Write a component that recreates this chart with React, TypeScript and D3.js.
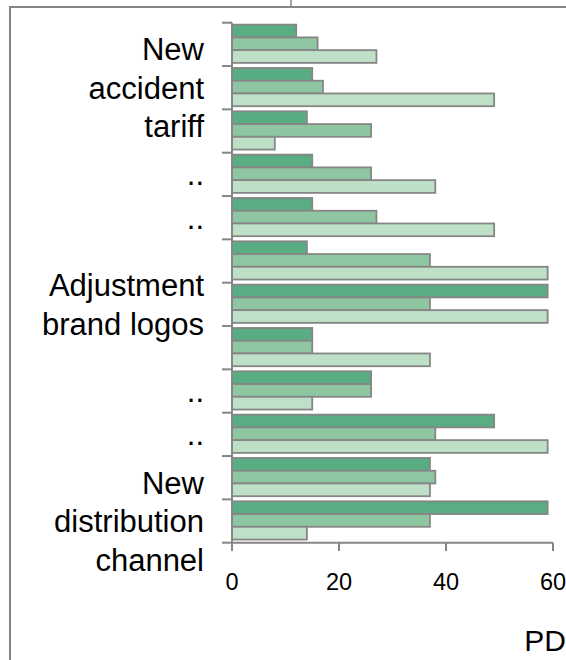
import React, { useEffect, useRef } from "react";
import * as d3 from "d3";

// Category labels (blank entries carry no axis text)
const categories = [
  "",
  "New accident tariff",
  "",
  "..",
  "..",
  "",
  "Adjustment brand logos",
  "",
  "..",
  "..",
  "",
  "New distribution channel",
];

const seriesNames = ["S1", "S2", "S3"];
const series1 = [12, 15, 14, 15, 15, 14, 59, 15, 26, 49, 37, 59];
const series2 = [16, 17, 26, 26, 27, 37, 37, 15, 26, 38, 38, 37];
const series3 = [27, 49, 8, 38, 49, 59, 59, 37, 15, 59, 37, 14];
const seriesColors = ["#59ad82", "#8dc6a0", "#bde0c7"];

const xTicks = [0, 20, 40, 60];
const axisTitle = "PD";

const W = 566;
const H = 660;
const FONT = "'Liberation Sans', Arial, Helvetica, sans-serif";
const GRAY = "#868686";

export default function App() {
  const ref = useRef<SVGSVGElement | null>(null);

  useEffect(() => {
    const svg = d3.select(ref.current);
    svg.selectAll("*").remove();

    const x = d3.scaleLinear().domain([0, 60]).range([232, 553]);
    const y0 = d3
      .scaleBand<number>()
      .domain(categories.map((_, i) => i))
      .range([22.7, 542.7])
      .paddingInner(0)
      .paddingOuter(0);
    const y1 = d3
      .scaleBand<string>()
      .domain(seriesNames)
      .range([0, y0.bandwidth()])
      .paddingInner(0)
      .paddingOuter(0.2);

    const seriesValues = [series1, series2, series3];

    // Outer frame pieces
    svg
      .append("line")
      .attr("x1", 9)
      .attr("x2", W)
      .attr("y1", 7)
      .attr("y2", 7)
      .attr("stroke", GRAY)
      .attr("stroke-width", 2);
    svg
      .append("line")
      .attr("x1", 10)
      .attr("x2", 10)
      .attr("y1", 6)
      .attr("y2", H)
      .attr("stroke", GRAY)
      .attr("stroke-width", 2);
    svg
      .append("line")
      .attr("x1", 291)
      .attr("x2", 291)
      .attr("y1", 0)
      .attr("y2", 7)
      .attr("stroke", GRAY)
      .attr("stroke-width", 1.5);

    // Bars
    const groups = svg
      .append("g")
      .selectAll("g")
      .data(categories.map((_, i) => i))
      .join("g")
      .attr("transform", (i) => `translate(0,${y0(i)! - 0.6})`);

    groups
      .selectAll("rect")
      .data((i) => seriesNames.map((s, k) => ({ s, k, v: seriesValues[k][i] })))
      .join("rect")
      .attr("x", x(0))
      .attr("y", (d) => y1(d.s)!)
      .attr("width", (d) => x(d.v) - x(0))
      .attr("height", y1.bandwidth())
      .attr("fill", (d) => seriesColors[d.k])
      .attr("stroke", GRAY)
      .attr("stroke-width", 1.8);

    // Category axis
    const yAxis = svg.append("g");
    yAxis
      .append("line")
      .attr("x1", x(0))
      .attr("x2", x(0))
      .attr("y1", 22.7)
      .attr("y2", 542.7)
      .attr("stroke", GRAY)
      .attr("stroke-width", 2);
    const bounds = categories.map((_, i) => y0(i)!).concat([542.7]);
    yAxis
      .selectAll("line.tick")
      .data(bounds)
      .join("line")
      .attr("class", "tick")
      .attr("x1", x(0) - 10)
      .attr("x2", x(0))
      .attr("y1", (d) => d)
      .attr("y2", (d) => d)
      .attr("stroke", GRAY)
      .attr("stroke-width", 2);

    // Category labels with word wrapping
    const lineH = 38.5;
    const maxW = 170;
    categories.forEach((label, i) => {
      if (!label) return;
      const cy = y0(i)! + y0.bandwidth() / 2;
      const text = yAxis
        .append("text")
        .attr("x", 204)
        .attr("text-anchor", "end")
        .attr("font-family", FONT)
        .attr("font-size", 31)
        .attr("fill", "#000");
      const words = label.split(" ");
      const lines: string[] = [];
      let cur: string[] = [];
      const probe = text.append("tspan");
      words.forEach((w) => {
        const test = [...cur, w].join(" ");
        probe.text(test);
        if (cur.length && (probe.node() as SVGTSpanElement).getComputedTextLength() > maxW) {
          lines.push(cur.join(" "));
          cur = [w];
        } else {
          cur.push(w);
        }
      });
      if (cur.length) lines.push(cur.join(" "));
      probe.remove();
      const first = cy + 11 - ((lines.length - 1) * lineH) / 2;
      lines.forEach((ln, j) => {
        text
          .append("tspan")
          .attr("x", 204)
          .attr("y", first + j * lineH)
          .text(ln);
      });
    });

    // Value axis
    const xAxis = svg.append("g");
    xAxis
      .append("line")
      .attr("x1", x(0))
      .attr("x2", x(60))
      .attr("y1", 542.7)
      .attr("y2", 542.7)
      .attr("stroke", GRAY)
      .attr("stroke-width", 2);
    xAxis
      .selectAll("line.xt")
      .data(xTicks)
      .join("line")
      .attr("class", "xt")
      .attr("x1", (d) => x(d))
      .attr("x2", (d) => x(d))
      .attr("y1", 542.7)
      .attr("y2", 551)
      .attr("stroke", GRAY)
      .attr("stroke-width", 2);
    xAxis
      .selectAll("text")
      .data(xTicks)
      .join("text")
      .attr("x", (d) => x(d))
      .attr("y", 590)
      .attr("text-anchor", "middle")
      .attr("font-family", FONT)
      .attr("font-size", 23.5)
      .attr("fill", "#000")
      .text((d) => String(d));

    svg
      .append("text")
      .attr("x", 566)
      .attr("y", 651)
      .attr("text-anchor", "end")
      .attr("font-family", FONT)
      .attr("font-size", 30)
      .attr("fill", "#000")
      .text(axisTitle);
  }, []);

  return (
    <svg
      ref={ref}
      width={W}
      height={H}
      style={{ position: "absolute", left: 0, top: 0, background: "#fff" }}
    />
  );
}
